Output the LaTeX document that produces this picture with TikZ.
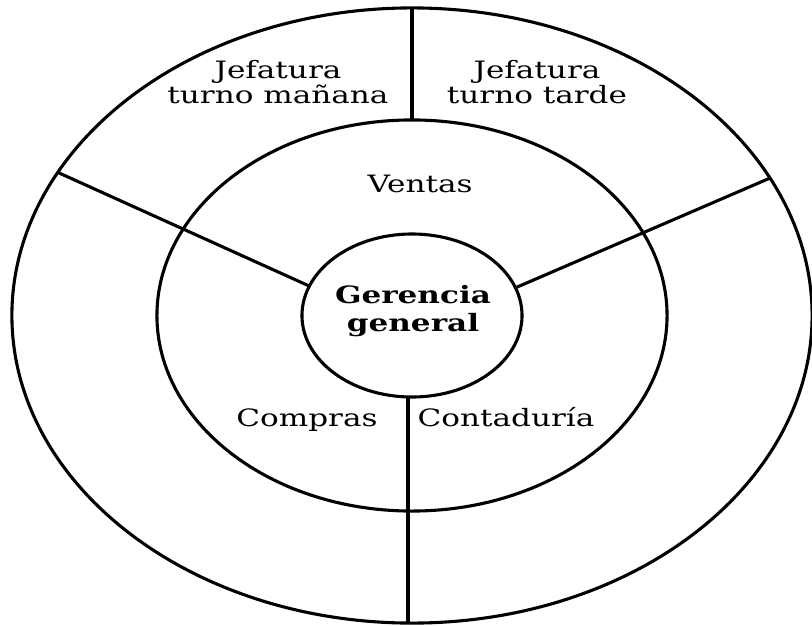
\documentclass[tikz,border=0pt]{standalone}
\usepackage{fontspec}
\setmainfont{DejaVu Serif}[FakeStretch=1.3]
\usetikzlibrary{shapes.geometric}

\begin{document}
\begin{tikzpicture}[
    x=0.025cm, y=-0.025cm,
    ring/.style = {ellipse, draw=black, line width=2.2pt, inner sep=0pt, outer sep=0pt},
    divider/.style = {draw=black, line width=2.2pt},
    unit/.style = {align=center, font=\fontsize{17}{18}\selectfont, inner sep=0pt}
]
\useasboundingbox (0,0) rectangle (812,626);

% Rings: outer (jefaturas), middle (departments), inner (management)
\node (outer) [ring, minimum width=20cm, minimum height=15.375cm] at (412,315.5) {};
\node (middle) [ring, minimum width=12.75cm, minimum height=9.775cm] at (412,315.5) {};
\node (inner) [ring, minimum width=5.5cm, minimum height=4.075cm] at (412,315.5) {};

% Dividers
\draw [divider] (outer.north) -- (middle.north);
\draw [divider] (outer.158.7) -- (inner.164.8);
\draw [divider] (outer.21.0) -- (inner.15.3);
\draw [divider] ([xshift=-0.1cm]inner.south) -- ([xshift=-0.1cm]outer.south);

% Outer ring labels
\node (manana) [unit] at (278,82) {Jefatura\\turno mañana};
\node (tarde) [unit] at (537,82) {Jefatura\\turno tarde};

% Middle ring labels
\node (ventas) [unit, anchor=base] at (420,192) {Ventas};
\node (compras) [unit, anchor=base] at (307,426) {Compras};
\node (conta) [unit, anchor=base] at (506,426) {Contaduría};

% Centre
\node (gerencia) [unit, font=\fontsize{17}{20}\selectfont\bfseries] at (413,311) {Gerencia\\general};

\end{tikzpicture}
\end{document}
